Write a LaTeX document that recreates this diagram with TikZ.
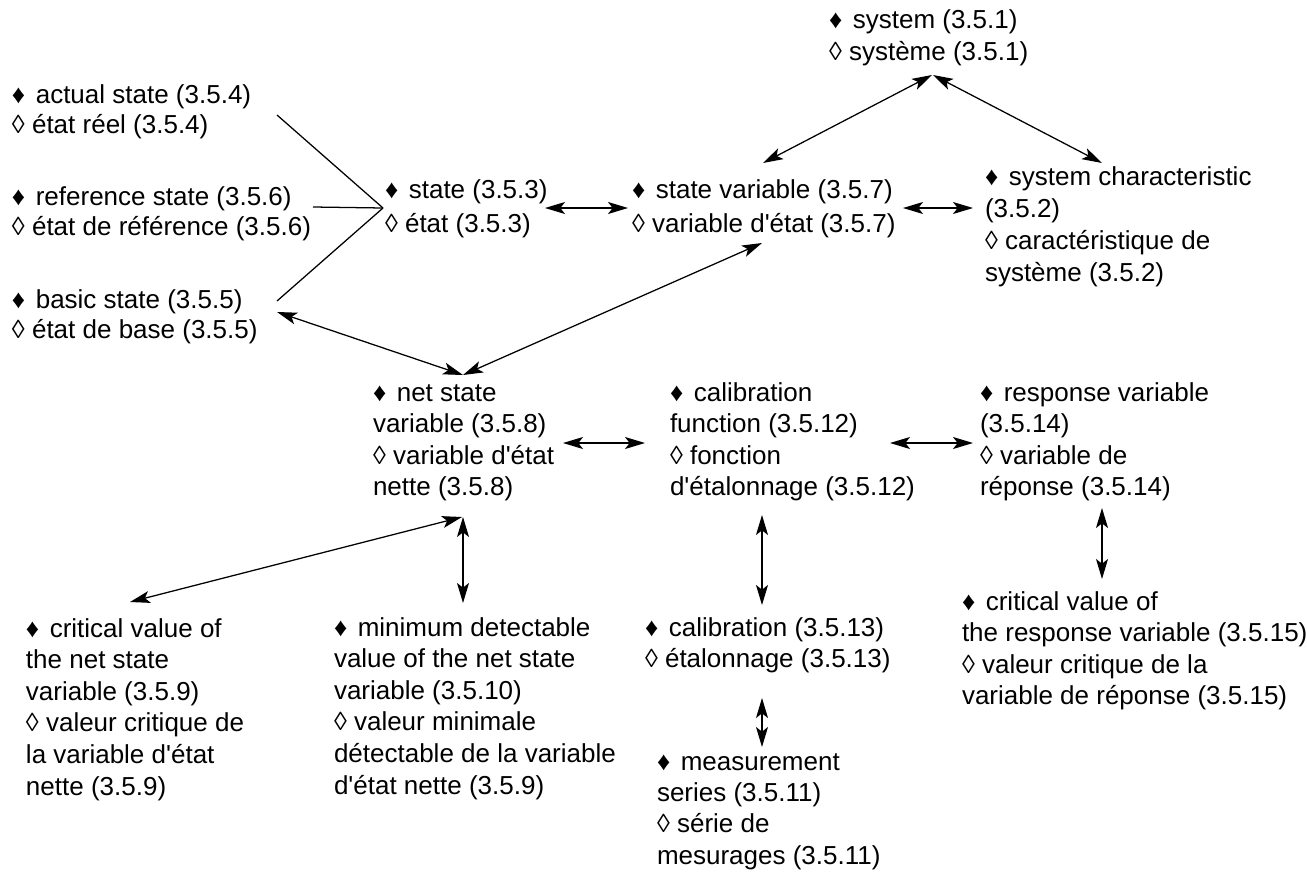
\documentclass[tikz,border=0pt]{standalone}
\usepackage{fontspec}
\setmainfont{Liberation Sans}
\usetikzlibrary{arrows.meta}

% lines of an entry, anchored on the baseline of the first line
\newcommand{\entrylines}[1]{\begin{tabular}[t]{@{}l@{}}#1\end{tabular}}
\newcommand{\en}{♦\hspace{2.5pt} }
\newcommand{\fr}{◊ }
\newcommand{\ap}{\textquotesingle}

\tikzset{
  concept/.style={anchor=base west, inner sep=0pt, outer sep=0pt,
    font=\fontsize{19.5}{23.7}\selectfont},
  tight/.style={font=\fontsize{19.5}{22.5}\selectfont},
  loose/.style={font=\fontsize{19.5}{25.5}\selectfont},
  link/.style={line width=0.95pt, black},
  biarrow/.style={link,
    {Stealth[length=15pt,width=9pt,inset=3.5pt]}-{Stealth[length=15pt,width=9pt,inset=3.5pt]}},
}

\begin{document}
\begin{tikzpicture}[x=0.75pt, y=-0.75pt]
  \useasboundingbox (0,0) rectangle (1307,875);

  % concepts (positions are the first baseline of each entry)
  \node[concept, font=\fontsize{19.5}{24}\selectfont] (sys) at (829,28)
    {\entrylines{\en system (3.5.1)\\\fr système (3.5.1)}};
  \node[concept, tight] (act) at (12,103)
    {\entrylines{\en actual state (3.5.4)\\\fr état réel (3.5.4)}};
  \node[concept, tight] (ref) at (12,205)
    {\entrylines{\en reference state (3.5.6)\\\fr état de référence (3.5.6)}};
  \node[concept, tight] (bas) at (12,308)
    {\entrylines{\en basic state (3.5.5)\\\fr état de base (3.5.5)}};
  \node[concept, loose] (st) at (385,198)
    {\entrylines{\en state (3.5.3)\\\fr état (3.5.3)}};
  \node[concept, loose] (sv) at (632,198)
    {\entrylines{\en state variable (3.5.7)\\\fr variable d\ap état (3.5.7)}};
  \node[concept, font=\fontsize{19.5}{24.2}\selectfont] (sc) at (985,185)
    {\entrylines{\en system characteristic\\(3.5.2)\\\fr caractéristique de\\système (3.5.2)}};
  \node[concept] (net) at (373,401)
    {\entrylines{\en net state\\variable (3.5.8)\\\fr variable d\ap état\\nette (3.5.8)}};
  \node[concept] (cf) at (670,401)
    {\entrylines{\en calibration\\function (3.5.12)\\\fr fonction\\d\ap étalonnage (3.5.12)}};
  \node[concept] (rv) at (980,401)
    {\entrylines{\en response variable\\(3.5.14)\\\fr variable de\\réponse (3.5.14)}};
  \node[concept] (cn) at (26,637)
    {\entrylines{\en critical value of\\the net state\\variable (3.5.9)\\\fr valeur critique de\\la variable d\ap état\\nette (3.5.9)}};
  \node[concept] (md) at (334,636)
    {\entrylines{\en minimum detectable\\value of the net state\\variable (3.5.10)\\\fr valeur minimale\\détectable de la variable\\d\ap état nette (3.5.9)}};
  \node[concept, font=\fontsize{19.5}{23.3}\selectfont] (cal) at (645,636)
    {\entrylines{\en calibration (3.5.13)\\\fr étalonnage (3.5.13)}};
  \node[concept, font=\fontsize{19.5}{23.5}\selectfont] (ms) at (657,770)
    {\entrylines{\en measurement\\series (3.5.11)\\\fr série de\\mesurages (3.5.11)}};
  \node[concept] (cr) at (962,610)
    {\entrylines{\en critical value of\\the response variable (3.5.15)\\\fr valeur critique de la\\variable de réponse (3.5.15)}};

  % the three kinds of state meet in front of "state"
  \coordinate (join) at ([shift={(-2,10)}]st.base west);
  \draw[link] ([shift={(265,12)}]act.base west) -- (join);
  \draw[link] ([shift={(301,2)}]ref.base west) -- (join);
  \draw[link] ([shift={(265,-7)}]bas.base west) -- (join);

  % relations
  \draw[biarrow] ([shift={(103,47)}]sys.base west) -- ([shift={(131,-35)}]sv.base west);
  \draw[biarrow] ([shift={(104,47)}]sys.base west) -- ([shift={(117,-22)}]sc.base west);
  \draw[biarrow] ([shift={(160,10)}]st.base west) -- ([shift={(-4,10)}]sv.base west);
  \draw[biarrow] ([shift={(271,10)}]sv.base west) -- ([shift={(-12,23)}]sc.base west);
  \draw[biarrow] ([shift={(130,45)}]sv.base west) -- ([shift={(90,-26)}]net.base west);
  \draw[biarrow] ([shift={(265,4)}]bas.base west) -- ([shift={(90,-26)}]net.base west);
  \draw[biarrow] ([shift={(190,42)}]net.base west) -- ([shift={(-25,42)}]cf.base west);
  \draw[biarrow] ([shift={(220,42)}]cf.base west) -- ([shift={(-7,42)}]rv.base west);
  \draw[biarrow] ([shift={(92,114)}]cf.base west) -- ([shift={(117,-31)}]cal.base west);
  \draw[biarrow] ([shift={(117,62)}]cal.base west) -- ([shift={(105,-23)}]ms.base west);
  \draw[biarrow] ([shift={(122,107)}]rv.base west) -- ([shift={(140,-31)}]cr.base west);
  \draw[biarrow] ([shift={(90,116)}]net.base west) -- ([shift={(129,-33)}]md.base west);
  \draw[biarrow] ([shift={(89,116)}]net.base west) -- ([shift={(104,-35)}]cn.base west);
\end{tikzpicture}
\end{document}
